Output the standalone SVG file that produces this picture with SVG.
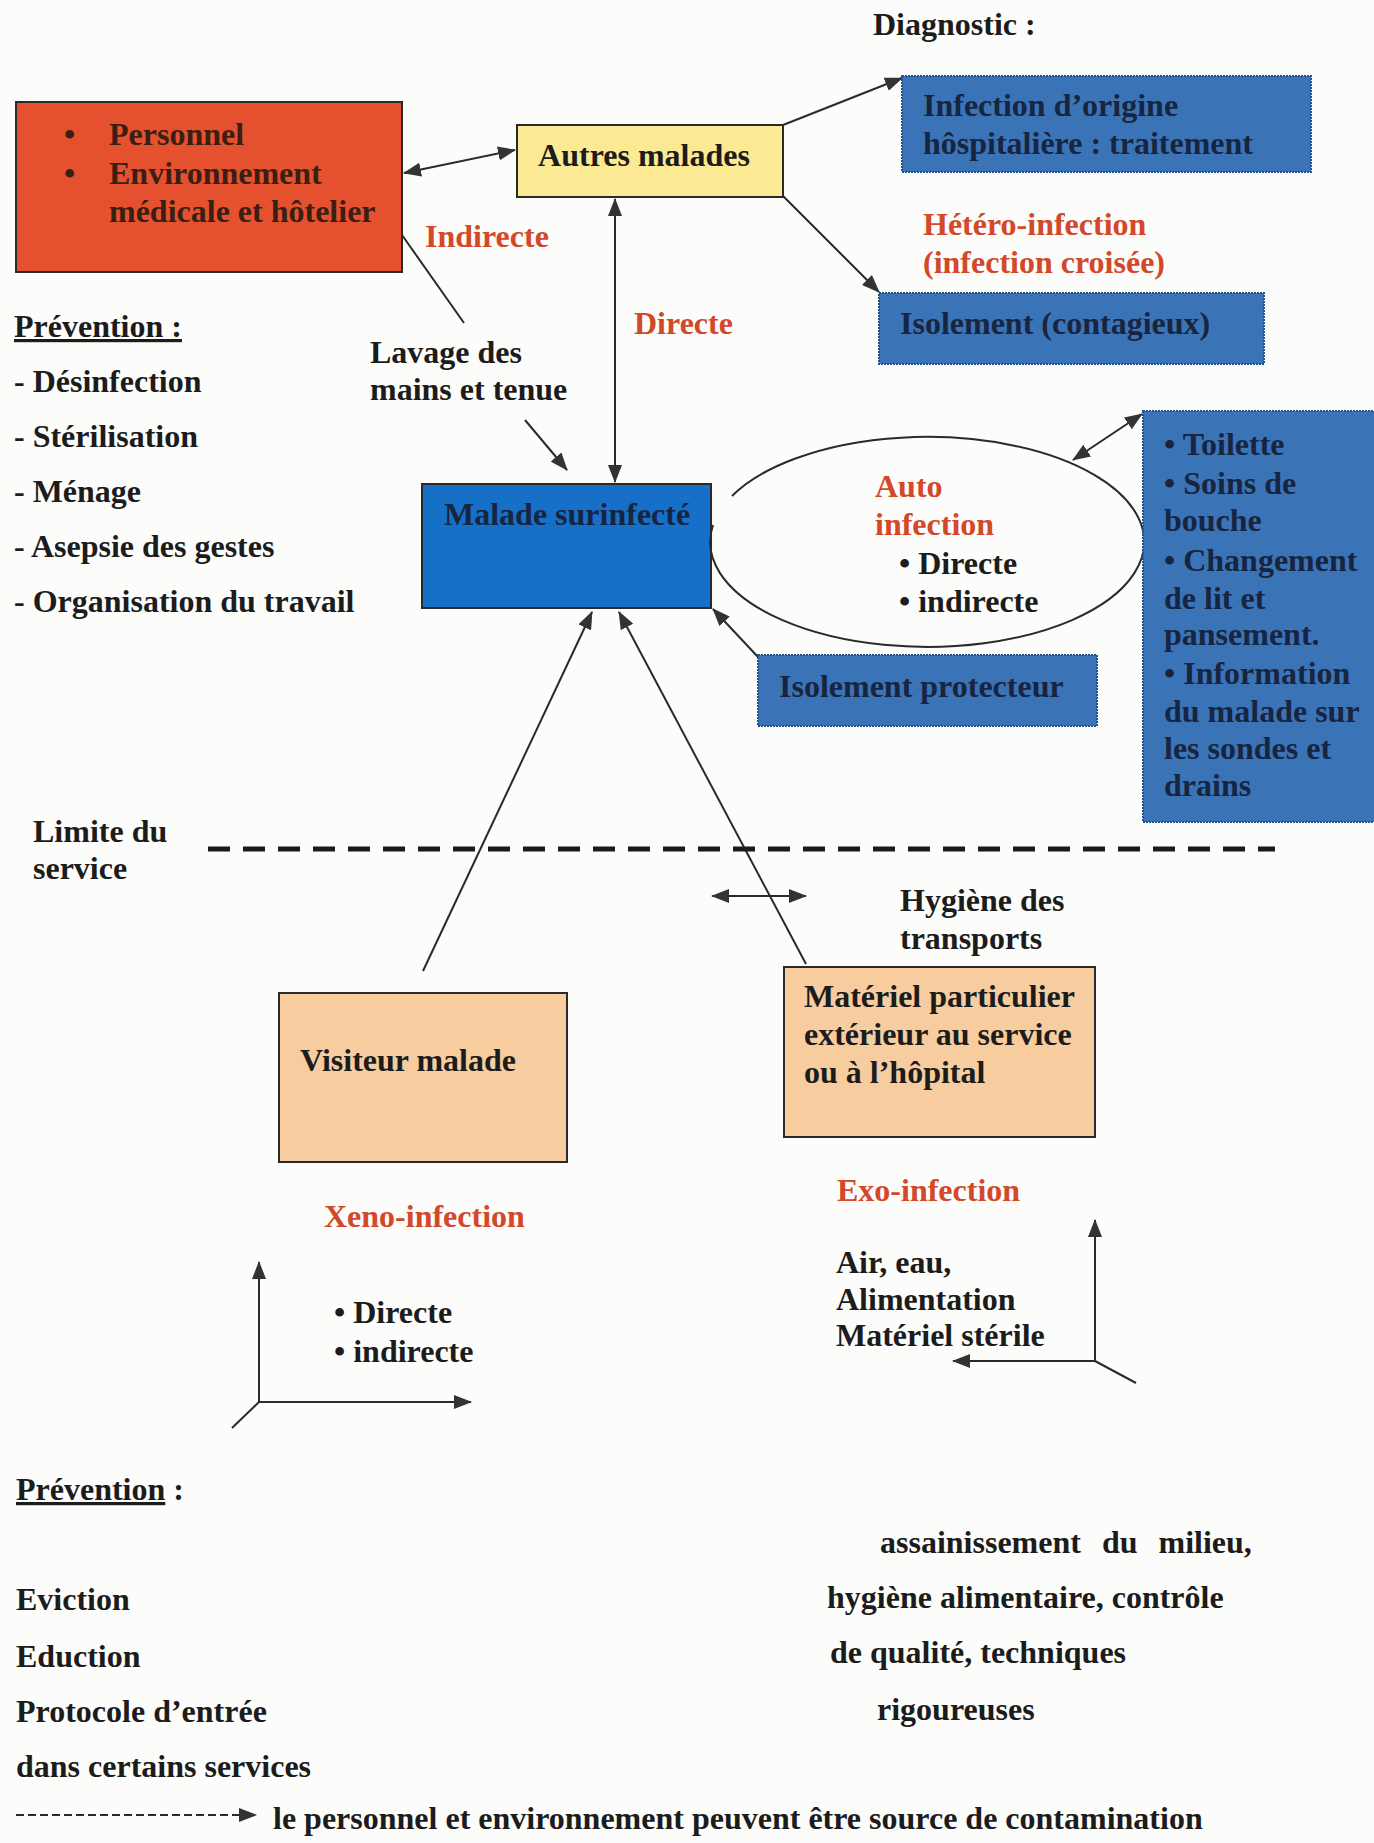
<svg xmlns="http://www.w3.org/2000/svg" width="1374" height="1843" viewBox="0 0 1374 1843">
<style>
text{font-family:"Liberation Serif","Times New Roman",serif;font-weight:bold;font-size:32px;fill:#1c1c1c}
.red{fill:#d4482a}
.dk{fill:#172540}
.rb{fill:#3a1f12}
.ln{stroke:#2a2a2a;stroke-width:2;fill:none}
.box{stroke:#2a2a2a;stroke-width:2}
.blue{fill:#3b73b7;stroke:#24528f;stroke-width:2;stroke-dasharray:2 1}
</style>
<defs>
<marker id="ah" viewBox="0 0 18 14" refX="17" refY="7" markerWidth="18" markerHeight="14" markerUnits="userSpaceOnUse" orient="auto-start-reverse">
<path d="M0,0 L18,7 L0,14 z" fill="#333"/>
</marker>
</defs>
<rect width="1374" height="1843" fill="#fcfcfa"/>

<g id="connectors">
<line class="ln" x1="404" y1="173" x2="515" y2="150" marker-start="url(#ah)" marker-end="url(#ah)"/>
<line class="ln" x1="783" y1="125" x2="902" y2="78" marker-end="url(#ah)"/>
<line class="ln" x1="783" y1="196" x2="879" y2="292" marker-end="url(#ah)"/>
<line class="ln" x1="402" y1="235" x2="464" y2="323"/>
<line class="ln" x1="525" y1="420" x2="567" y2="470" marker-end="url(#ah)"/>
<line class="ln" x1="615" y1="199" x2="615" y2="482" marker-start="url(#ah)" marker-end="url(#ah)"/>
<line class="ln" x1="758" y1="657" x2="713" y2="609" marker-end="url(#ah)"/>
<line class="ln" x1="1073" y1="460" x2="1142" y2="414" marker-start="url(#ah)" marker-end="url(#ah)"/>
<line class="ln" x1="423" y1="971" x2="592" y2="612" marker-end="url(#ah)"/>
<line class="ln" x1="806" y1="964" x2="619" y2="612" marker-end="url(#ah)"/>
<line class="ln" x1="712" y1="896" x2="806" y2="896" marker-start="url(#ah)" marker-end="url(#ah)"/>
<line class="ln" x1="259" y1="1402" x2="259" y2="1262" marker-end="url(#ah)"/>
<line class="ln" x1="259" y1="1402" x2="471" y2="1402" marker-end="url(#ah)"/>
<line class="ln" x1="259" y1="1402" x2="232" y2="1428"/>
<line class="ln" x1="1095" y1="1361" x2="1095" y2="1220" marker-end="url(#ah)"/>
<line class="ln" x1="1095" y1="1361" x2="953" y2="1361" marker-end="url(#ah)"/>
<line class="ln" x1="1095" y1="1361" x2="1136" y2="1383"/>
<line x1="208" y1="849" x2="1275" y2="849" stroke="#1a1a1a" stroke-width="5" stroke-dasharray="22 13"/>
<line class="ln" x1="16" y1="1815" x2="256" y2="1815" stroke-dasharray="8 4" marker-end="url(#ah)"/>
</g>

<g id="node-red">
<rect class="box" x="16" y="102" width="386" height="170" fill="#e5512f"/>
<text class="rb" x="64" y="145">•</text><text class="rb" x="109" y="145">Personnel</text>
<text class="rb" x="64" y="184">•</text><text class="rb" x="109" y="184">Environnement</text>
<text class="rb" x="109" y="222">médicale et hôtelier</text>
</g>

<g id="node-autres">
<rect class="box" x="517" y="125" width="266" height="72" fill="#fbea93"/>
<text x="644" y="166" text-anchor="middle">Autres malades</text>
</g>

<g id="label-diagnostic"><text x="873" y="35">Diagnostic :</text></g>

<g id="node-infection">
<rect class="blue" x="902" y="76" width="409" height="96"/>
<text class="dk" x="923" y="116">Infection d’origine</text>
<text class="dk" x="923" y="154">hôspitalière : traitement</text>
</g>

<g id="label-hetero">
<text class="red" x="923" y="235">Hétéro-infection</text>
<text class="red" x="923" y="273">(infection croisée)</text>
</g>

<g id="node-isolement">
<rect class="blue" x="879" y="293" width="385" height="71"/>
<text class="dk" x="900" y="334">Isolement (contagieux)</text>
</g>

<g id="label-indirecte"><text class="red" x="425" y="247">Indirecte</text></g>
<g id="label-directe"><text class="red" x="634" y="334">Directe</text></g>

<g id="label-lavage">
<text x="370" y="363">Lavage des</text>
<text x="370" y="400">mains et tenue</text>
</g>

<g id="prevention-1">
<text x="14" y="337" text-decoration="underline">Prévention :</text>
<text x="14" y="392">- Désinfection</text>
<text x="14" y="447">- Stérilisation</text>
<text x="14" y="502">- Ménage</text>
<text x="14" y="557">- Asepsie des gestes</text>
<text x="14" y="612">- Organisation du travail</text>
</g>

<g id="node-malade">
<rect class="box" x="422" y="484" width="289" height="124" fill="#1670c8"/>
<text class="dk" x="444" y="525">Malade surinfecté</text>
</g>

<g id="node-auto">
<path class="ln" d="M 732 496 A 217 105 0 1 1 713 525"/>
<text class="red" x="875" y="497">Auto</text>
<text class="red" x="875" y="535">infection</text>
<text x="899" y="574">• Directe</text>
<text x="899" y="612">• indirecte</text>
</g>

<g id="node-soins">
<rect class="blue" x="1143" y="411" width="235" height="411"/>
<text class="dk" x="1164" y="455">• Toilette</text>
<text class="dk" x="1164" y="494">• Soins de</text>
<text class="dk" x="1164" y="531">bouche</text>
<text class="dk" x="1164" y="571">• Changement</text>
<text class="dk" x="1164" y="609">de lit et</text>
<text class="dk" x="1164" y="645">pansement.</text>
<text class="dk" x="1164" y="684">• Information</text>
<text class="dk" x="1164" y="722">du malade sur</text>
<text class="dk" x="1164" y="759">les sondes et</text>
<text class="dk" x="1164" y="796">drains</text>
</g>

<g id="node-isolement-protecteur">
<rect class="blue" x="758" y="655" width="339" height="71"/>
<text class="dk" x="779" y="697">Isolement protecteur</text>
</g>

<g id="label-limite">
<text x="33" y="842">Limite du</text>
<text x="33" y="879">service</text>
</g>

<g id="label-hygiene">
<text x="900" y="911">Hygiène des</text>
<text x="900" y="949">transports</text>
</g>

<g id="node-materiel">
<rect class="box" x="784" y="967" width="311" height="170" fill="#f7cc9f"/>
<text x="804" y="1007">Matériel particulier</text>
<text x="804" y="1045">extérieur au service</text>
<text x="804" y="1083">ou à l’hôpital</text>
</g>

<g id="node-visiteur">
<rect class="box" x="279" y="993" width="288" height="169" fill="#f7cc9f"/>
<text x="300" y="1071">Visiteur malade</text>
</g>

<g id="label-xeno">
<text class="red" x="324" y="1227">Xeno-infection</text>
<text x="334" y="1323">• Directe</text>
<text x="334" y="1362">• indirecte</text>
</g>

<g id="label-exo">
<text class="red" x="837" y="1201">Exo-infection</text>
<text x="836" y="1273">Air, eau,</text>
<text x="836" y="1310">Alimentation</text>
<text x="836" y="1346">Matériel stérile</text>
</g>

<g id="prevention-2">
<text x="16" y="1500"><tspan text-decoration="underline">Prévention</tspan> :</text>
<text x="16" y="1610">Eviction</text>
<text x="16" y="1667">Eduction</text>
<text x="16" y="1722">Protocole d’entrée</text>
<text x="16" y="1777">dans certains services</text>
<text x="880" y="1553" word-spacing="13">assainissement du milieu,</text>
<text x="827" y="1608">hygiène alimentaire, contrôle</text>
<text x="830" y="1663">de qualité, techniques</text>
<text x="877" y="1720">rigoureuses</text>
</g>

<g id="legend">
<text x="273" y="1829">le personnel et environnement peuvent être source de contamination</text>
</g>
</svg>
